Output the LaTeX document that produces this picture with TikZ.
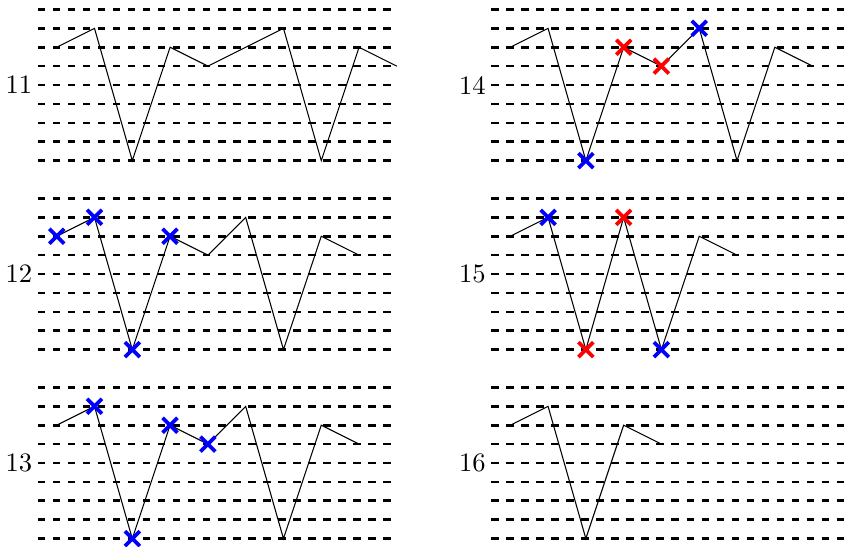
\documentclass[tikz,border=0pt]{standalone}
\usepackage{amsmath}
\usetikzlibrary{shapes.misc, positioning}

\begin{document}
\begin{tikzpicture}[
    x=0.25cm, y=0.25cm,
    staff/.style={line width=1pt, dash pattern=on 2.85pt off 2.8pt},
    trace/.style={thin, black},
    hit/.style={cross out, draw=#1, line width=1.4pt, minimum size=4.2pt, inner sep=0pt},
    lbl/.style={font=\normalsize}
]
\useasboundingbox (0,0) rectangle (44.66,-28.94);
\clip (0,0) rectangle (44.66,-28.94);

% Staff lines
\foreach \ox in {0,24}
  \foreach \oy in {0,-10,-20}
    \foreach \i in {0,...,8}
      \draw[staff] (\ox+2,\oy-0.5-\i) -- (\ox+21,\oy-0.5-\i);

% Labels
\node[lbl] (l11) at (1,-4.5) {11};
\node[lbl] (l12) at (1,-14.5) {12};
\node[lbl] (l13) at (1,-24.5) {13};
\node[lbl] (l14) at (25,-4.5) {14};
\node[lbl] (l15) at (25,-14.5) {15};
\node[lbl] (l16) at (25,-24.5) {16};

% Traces
\draw[trace] (3,-2.5) coordinate (a0) -- (5,-1.5) coordinate (a1) -- (7,-8.5) coordinate (a2)
  -- (9,-2.5) coordinate (a3) -- (11,-3.5) coordinate (a4) -- (13,-2.5) coordinate (a5)
  -- (15,-1.5) coordinate (a6) -- (17,-8.5) coordinate (a7) -- (19,-2.5) coordinate (a8)
  -- (21,-3.5) coordinate (a9);
\draw[trace] (3,-12.5) coordinate (b0) -- (5,-11.5) coordinate (b1) -- (7,-18.5) coordinate (b2)
  -- (9,-12.5) coordinate (b3) -- (11,-13.5) coordinate (b4) -- (13,-11.5) coordinate (b5)
  -- (15,-18.5) coordinate (b6) -- (17,-12.5) coordinate (b7) -- (19,-13.5) coordinate (b8);
\draw[trace] (3,-22.5) coordinate (c0) -- (5,-21.5) coordinate (c1) -- (7,-28.5) coordinate (c2)
  -- (9,-22.5) coordinate (c3) -- (11,-23.5) coordinate (c4) -- (13,-21.5) coordinate (c5)
  -- (15,-28.5) coordinate (c6) -- (17,-22.5) coordinate (c7) -- (19,-23.5) coordinate (c8);
\draw[trace] (27,-2.5) coordinate (d0) -- (29,-1.5) coordinate (d1) -- (31,-8.5) coordinate (d2)
  -- (33,-2.5) coordinate (d3) -- (35,-3.5) coordinate (d4) -- (37,-1.5) coordinate (d5)
  -- (39,-8.5) coordinate (d6) -- (41,-2.5) coordinate (d7) -- (43,-3.5) coordinate (d8);
\draw[trace] (27,-12.5) coordinate (e0) -- (29,-11.5) coordinate (e1) -- (31,-18.5) coordinate (e2)
  -- (33,-11.5) coordinate (e3) -- (35,-18.5) coordinate (e4) -- (37,-12.5) coordinate (e5)
  -- (39,-13.5) coordinate (e6);
\draw[trace] (27,-22.5) coordinate (f0) -- (29,-21.5) coordinate (f1) -- (31,-28.5) coordinate (f2)
  -- (33,-22.5) coordinate (f3) -- (35,-23.5) coordinate (f4);

% Marks
\foreach \p in {b0,b1,b2,b3,c1,c2,c3,c4,d2,d5,e1,e4}
  \node[hit=blue] (x\p) at (\p) {};
\foreach \p in {d3,d4,e2,e3}
  \node[hit=red] (x\p) at (\p) {};
\end{tikzpicture}
\end{document}
